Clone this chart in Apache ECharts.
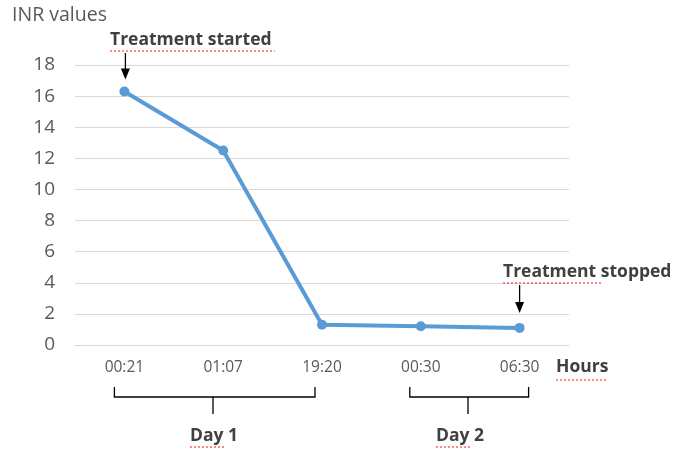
<!DOCTYPE html>
<html><head><meta charset="utf-8">
<script src="https://cdn.jsdelivr.net/npm/echarts@6/dist/echarts.min.js"></script>
<style>html,body{margin:0;padding:0;background:#fff}#c{width:677px;height:451px}</style>
</head><body><div id="c"></div>
<script>
const categories = ['00:21', '01:07', '19:20', '00:30', '06:30'];
const inrValues = [16.3, 12.5, 1.3, 1.2, 1.1];
const yTicks = { min: 0, max: 18, interval: 2 };
const dayGroups = [
  { label: 'Day 1', from: 0, to: 2 },
  { label: 'Day 2', from: 3, to: 4 }
];
const startLabel = 'Treatment started';
const stopLabel = 'Treatment stopped';
const unitLabel = 'Hours';
const yTitle = 'INR values';

// layout (pixel tweaks, not data)
const bracketLayout = [
  { padL: 10, padR: -7, stem: 213, text: 214 },
  { padL: 11, padR: 9, stem: 468, text: 460 }
];

const FONT = '"Open Sans", "Noto Sans", sans-serif';
const chart = echarts.init(document.getElementById('c'), null, { renderer: 'canvas' });
chart.setOption({
  animation: false,
  backgroundColor: '#fff',
  grid: { left: 75, right: 108, top: 65, bottom: 106 },
  xAxis: {
    type: 'category', data: categories, boundaryGap: true,
    axisLine: { show: true, lineStyle: { color: '#d9d9d9', width: 1 } },
    axisTick: { show: false },
    axisLabel: { color: '#595959', fontSize: 15.5, fontFamily: FONT, margin: 15 }
  },
  yAxis: {
    type: 'value', min: yTicks.min, max: yTicks.max, interval: yTicks.interval,
    axisLine: { show: false }, axisTick: { show: false },
    splitLine: { lineStyle: { color: '#d9d9d9', width: 1 } },
    axisLabel: { color: '#595959', fontSize: 19, fontFamily: FONT, margin: 20 }
  },
  series: [{
    type: 'line', data: inrValues,
    lineStyle: { color: '#5b9bd5', width: 4 },
    itemStyle: { color: '#5b9bd5' },
    symbol: 'circle', symbolSize: 10
  }]
});

function px(i, v) { return chart.convertToPixel({ xAxisIndex: 0, yAxisIndex: 0 }, [i, v]); }
function arrow(x, y0, y1) {
  return [
    { type: 'line', shape: { x1: x, y1: y0, x2: x, y2: y1 - 8 }, style: { stroke: '#000', lineWidth: 1.3 } },
    { type: 'polygon', shape: { points: [[x - 4.5, y1 - 11], [x + 4.5, y1 - 11], [x, y1]] }, style: { fill: '#000' } }
  ];
}
function squiggle(x1, x2, y) {
  return { type: 'line', shape: { x1: x1, y1: y, x2: x2, y2: y },
    style: { stroke: '#ff3b3b', lineWidth: 1.2, lineDash: [2, 2] } };
}
function label(text, x, y, size, bold, color, align) {
  return { type: 'text', x: x, y: y, style: { text: text, fill: color, align: align || 'left', verticalAlign: 'middle',
    font: (bold ? 'bold ' : '') + size + 'px ' + FONT } };
}
const els = [];
els.push(label(yTitle, 12, 15, 19.5, false, '#595959'));
// start
const p0 = px(0, inrValues[0]);
els.push(label(startLabel, 110, 40, 17.5, true, '#404040'));
els.push(squiggle(110, 275, 51));
els.push(...arrow(p0[0] + 1, 53, p0[1] - 12));
// stop
const p4 = px(4, inrValues[4]);
els.push(label(stopLabel, 503, 272, 17.5, true, '#404040'));
els.push(squiggle(503, 602, 283));
els.push(...arrow(p4[0], 285, p4[1] - 15));
// Hours
els.push(label(unitLabel, 556, 367, 17.5, true, '#404040'));
els.push(squiggle(556, 608, 380));
// brackets
dayGroups.forEach((g, k) => {
  const L = bracketLayout[k];
  const xa = px(g.from, 0)[0] - L.padL;
  const xb = px(g.to, 0)[0] + L.padR;
  const top = 387, mid = 397, bot = 414;
  els.push({ type: 'polyline', shape: { points: [[xa, top], [xa, mid], [xb, mid], [xb, top]] },
    style: { stroke: '#000', lineWidth: 1.3, fill: null } });
  els.push({ type: 'line', shape: { x1: L.stem, y1: mid, x2: L.stem, y2: bot }, style: { stroke: '#000', lineWidth: 1.3 } });
  els.push(label(g.label, L.text, 436, 17.5, true, '#404040', 'center'));
  els.push(squiggle(L.text - 24, L.text + 12, 447));
});
chart.setOption({ graphic: { elements: els } });
</script></body></html>
